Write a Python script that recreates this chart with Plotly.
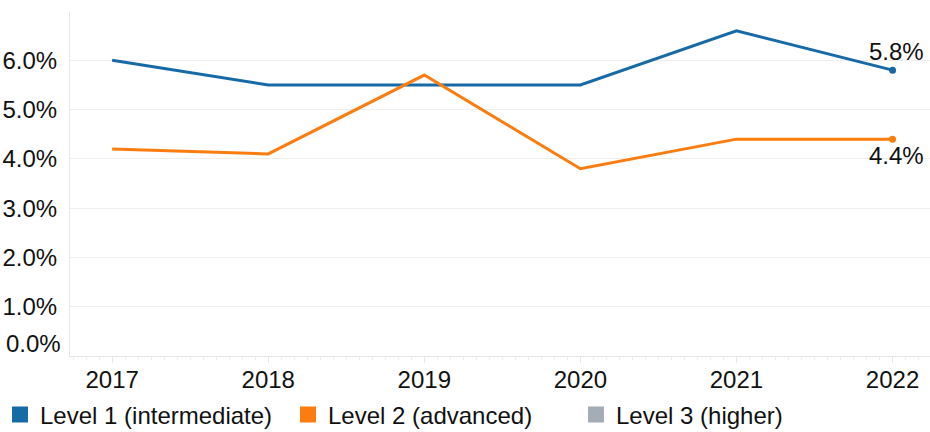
import plotly.graph_objects as go

years = [2017, 2018, 2019, 2020, 2021, 2022]
level1 = [6.0, 5.5, 5.5, 5.5, 6.6, 5.8]
level2 = [4.2, 4.1, 5.7, 3.8, 4.4, 4.4]
series_names = ["Level 1 (intermediate)", "Level 2 (advanced)", "Level 3 (higher)"]
colors = ["#176aa6", "#fb7d0f", "#a4acb6"]
y_ticks = [1, 2, 3, 4, 5, 6]

FONT = "Liberation Sans, Arial, sans-serif"
FS = 24

fig = go.Figure()
for vals, col in [(level1, colors[0]), (level2, colors[1])]:
    fig.add_trace(go.Scatter(
        x=years, y=vals, mode="lines", line=dict(color=col, width=3),
        showlegend=False, hoverinfo="x+y"))
    fig.add_trace(go.Scatter(
        x=[years[-1]], y=[vals[-1]], mode="markers",
        marker=dict(color=col, size=7), showlegend=False))

for name, col in zip(series_names, colors):
    fig.add_trace(go.Scatter(
        x=[None], y=[None], mode="markers", name=name,
        marker=dict(symbol="square", color=col, size=16)))

fig.add_annotation(x=years[-1], y=level1[-1], text=f"{level1[-1]:.1f}%",
                   showarrow=False, yshift=19, xshift=4,
                   font=dict(family=FONT, size=FS, color="#111"))
fig.add_annotation(x=years[-1], y=level2[-1], text=f"{level2[-1]:.1f}%",
                   showarrow=False, yshift=-16, xshift=4,
                   font=dict(family=FONT, size=FS, color="#111"))
fig.add_annotation(xref="paper", x=0, y=0, text="0.0%", showarrow=False,
                   xanchor="right", xshift=-7, yshift=13,
                   font=dict(family=FONT, size=FS, color="#111"))

fig.update_layout(
    width=930, height=432,
    margin=dict(l=70, r=0, t=12, b=76, autoexpand=False),
    paper_bgcolor="white", plot_bgcolor="white",
    font=dict(family=FONT, size=FS, color="#111"),
    legend=dict(orientation="h", xref="container", yref="container",
                x=-5 / 930, y=17 / 432, xanchor="left", yanchor="middle",
                font=dict(family=FONT, size=FS, color="#111"),
                entrywidth=243, itemsizing="trace", tracegroupgap=0),
    xaxis=dict(range=[2016.73, 2022.24], tickvals=years, automargin=False,
               ticktext=[str(y) for y in years],
               showgrid=False, zeroline=False,
               showline=True, linecolor="#e6e6e6", linewidth=1,
               ticks="outside", ticklen=6, tickcolor="#e6e6e6",
               ticklabelstandoff=-4,
               minor=dict(dtick=1 / 12, ticks="outside", ticklen=3,
                          tickcolor="#eeeeee", showgrid=False),
               tickfont=dict(family=FONT, size=FS, color="#111")),
    yaxis=dict(range=[0, 6.98], tickvals=y_ticks, automargin=False,
               ticktext=[f"{v:.1f}%" for v in y_ticks],
               showgrid=True, gridcolor="#eeeeee", gridwidth=1,
               zeroline=False, showline=True, linecolor="#e6e6e6",
               ticks="", ticklabelstandoff=7,
               tickfont=dict(family=FONT, size=FS, color="#111")),
)

fig.write_html("out.html", config={"displayModeBar": False},
               post_script="document.body.style.margin='0';document.body.style.padding='0';")
